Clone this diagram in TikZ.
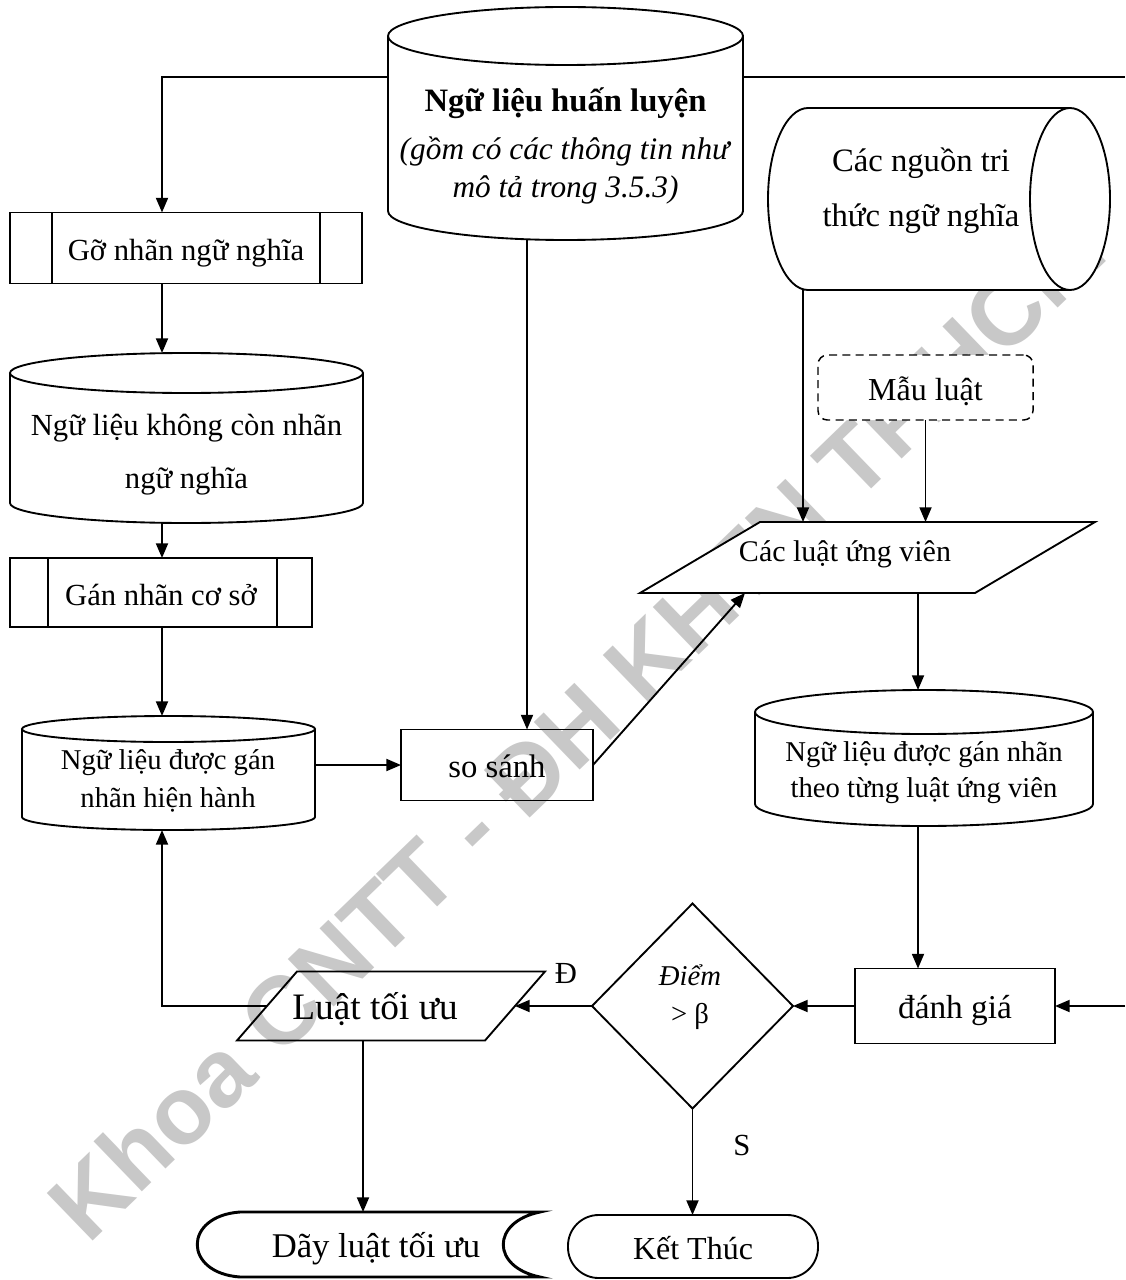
\documentclass[tikz,border=0pt]{standalone}
\usepackage{fontspec}
\setmainfont{Liberation Serif}
\newfontfamily\wmfont{Liberation Sans}
\usetikzlibrary{arrows.meta,calc}
\definecolor{wmgray}{RGB}{200,200,200}

% vertical database cylinder drawn around a frame node: #1 node, #2 x radius, #3 y radius (px)
\newcommand{\dbcyl}[3]{%
  \path[fill=white] ($(#1.north west)+(0,#3)$) -- ($(#1.south west)-(0,#3)$)
    arc[start angle=180,end angle=0,x radius=#2,y radius=#3]
    -- ($(#1.north east)+(0,#3)$)
    arc[start angle=0,end angle=-180,x radius=#2,y radius=#3] -- cycle;
  \draw[stroke] ($(#1.north west)+(0,#3)$) -- ($(#1.south west)-(0,#3)$)
    arc[start angle=180,end angle=0,x radius=#2,y radius=#3]
    -- ($(#1.north east)+(0,#3)$);
  \draw[stroke] ($(#1.north)+(0,#3)$) ellipse[x radius=#2,y radius=#3];
}

\begin{document}
\begin{tikzpicture}[x=0.75pt,y=-0.75pt,
  every node/.style={inner sep=0pt,outer sep=0pt},
  sz/.style 2 args={minimum width=#1*0.75pt,minimum height=#2*0.75pt},
  stroke/.style={line width=1.4pt},
  flow/.style={stroke,-{Triangle[length=11pt,width=9pt]}},
  lbl/.style={font=\fontsize{23}{28.5}\selectfont,align=center},
  procbox/.style={draw,stroke,rectangle,lbl,text height=21pt,text depth=2pt},
]
\useasboundingbox (0,0) rectangle (1125,1280);
\fill[white] (0,0) rectangle (1125,1280);

% watermark
\node[font=\wmfont\bfseries\fontsize{72}{72}\selectfont,text=wmgray,rotate=44,anchor=base west]
  (wm) at (88,1245) {Khoa CNTT - ĐH KHTN TP.HCM};

% frames of the drawn shapes
\node[sz={355}{233}] (train) at (565.5,123.5) {};
\node[sz={353}{170}] (plain) at (186.5,438) {};
\node[sz={293}{114}] (cur) at (168.5,773) {};
\node[sz={338}{136}] (ranked) at (924,758) {};
\node[sz={342}{182}] (srcs) at (939,199) {};
\node[sz={455}{71}] (cand) at (867.5,557.5) {};
\node[sz={308}{69}] (best) at (391,1006) {};
\node[sz={201}{205}] (test) at (692.5,1006) {};
\node[sz={343}{65}] (seq) at (368.5,1244.5) {};

% cylinders
\dbcyl{train}{177.5}{29}
\dbcyl{plain}{176.5}{20}
\dbcyl{cur}{146.5}{13}
\dbcyl{ranked}{169}{22}

% horizontal cylinder
\filldraw[stroke,fill=white] ($(srcs.north east)-(40,0)$) -- ($(srcs.north west)+(40,0)$)
  arc[start angle=270,end angle=90,x radius=40,y radius=91] -- ($(srcs.south east)-(40,0)$);
\filldraw[stroke,fill=white] ($(srcs.east)-(40,0)$) ellipse[x radius=40,y radius=91];

% parallelograms and decision
\filldraw[stroke,fill=white] ($(cand.north west)+(120,0)$) -- (cand.north east)
  -- ($(cand.south east)-(120,0)$) -- (cand.south west) -- cycle;
\draw[stroke] ($(best.north west)+(60,0)$) -- (best.north east)
  -- ($(best.south east)-(60,0)$) -- (best.south west) -- cycle;
\draw[stroke] (test.north) -- (test.east) -- (test.south) -- (test.west) -- cycle;

% stored data
\draw[line width=2.2pt] ($(seq.north west)+(43,0)$) -- (seq.north east)
  .. controls ($(seq.north east)+(-49,10)$) and ($(seq.south east)+(-49,-10)$) .. (seq.south east)
  -- ($(seq.south west)+(43,0)$)
  .. controls ($(seq.south west)+(-14,-4)$) and ($(seq.north west)+(-14,4)$) .. cycle;

% boxes with text
\node[procbox,sz={352}{71}] (strip) at (186,248) {Gỡ nhãn ngữ nghĩa};
\draw[stroke] ($(strip.north west)+(42,0)$) -- ($(strip.south west)+(42,0)$);
\draw[stroke] ($(strip.north east)-(42,0)$) -- ($(strip.south east)-(42,0)$);
\node[procbox,sz={302}{69}] (base) at (161,592.5) {Gán nhãn cơ sở};
\draw[stroke] ($(base.north west)+(38,0)$) -- ($(base.south west)+(38,0)$);
\draw[stroke] ($(base.north east)-(35,0)$) -- ($(base.south east)-(35,0)$);
\node[procbox,sz={192}{71},font=\fontsize{24.5}{30}\selectfont] (cmp) at (497,765) {so sánh};
\node[procbox,sz={200}{75},font=\fontsize{25}{30}\selectfont] (eval) at (955,1006) {đánh giá};
\node[procbox,line width=1.1pt,dash pattern=on 6pt off 4pt,rounded corners=7pt,fill=white,
  sz={215}{65},font=\fontsize{24}{30}\selectfont] (rule) at (925.5,387.5) {Mẫu luật};
\node[procbox,rounded corners=23pt,sz={250}{63},font=\fontsize{24}{30}\selectfont]
  (stop) at (693,1246.5) {Kết Thúc};

% texts of the drawn shapes
\node[lbl] (train-t) at (565.5,146) {{\fontsize{24.5}{28.5}\selectfont\textbf{Ngữ liệu huấn luyện}}\\[7.5pt]
  {\fontsize{23.5}{28.5}\selectfont\textit{(gồm có các thông tin như}}\\
  {\fontsize{23.5}{28.5}\selectfont\textit{mô tả trong 3.5.3)}}};
\node[lbl,font=\fontsize{23}{40}\selectfont] (plain-t) at (186.5,454.5) {Ngữ liệu không còn nhãn\\ngữ nghĩa};
\node[lbl,font=\fontsize{21.5}{28.5}\selectfont] (cur-t) at (168,781) {Ngữ liệu được gán\\nhãn hiện hành};
\node[lbl,font=\fontsize{21.5}{27}\selectfont] (ranked-t) at (924,773) {Ngữ liệu được gán nhãn\\theo từng luật ứng viên};
\node[lbl,font=\fontsize{24.5}{41}\selectfont] (srcs-t) at (921,190.5) {Các nguồn tri\\thức ngữ nghĩa};
\node[lbl,font=\fontsize{22.5}{28}\selectfont] (cand-t) at (845,554) {Các luật ứng viên};
\node[lbl,font=\fontsize{28}{32}\selectfont] (best-t) at (375,1009) {Luật tối ưu};
\node[lbl,font=\fontsize{21.5}{29}\selectfont] (test-t) at (690,997) {\textit{Điểm}\\> β};
\node[lbl,font=\fontsize{26}{30}\selectfont] (seq-t) at (376,1249) {Dãy luật tối ưu};
\node[lbl] (yes) at (566,973) {Đ};
\node[lbl] (no) at (742,1145) {S};

% connector columns
\coordinate (xL) at (162,77);
\coordinate (xR) at (1125,77);
\coordinate (inR) at (1125,1006);
\coordinate (xC) at (527,0);
\coordinate (xK) at (803,0);
\coordinate (xV) at (918,0);
\coordinate (xM) at (363,0);

% connectors
\draw[flow] (xL -| train.west) -- (xL) -- (xL |- strip.north);
\draw[stroke] (xR -| train.east) -- (xR);
\draw[flow] (xL |- strip.south) -- (xL |- plain.north);
\draw[flow] (xL |- plain.south) -- (xL |- base.north);
\draw[flow] (xL |- base.south) -- (xL |- cur.north);
\draw[flow] (cmp.west -| cur.east) -- (cmp.west);
\draw[flow] (xC |- train.south) -- (xC |- cmp.north);
\draw[flow] (cmp.east) -- ($(cand.south west)+(105,0)$);
\draw[flow] (xK |- srcs.south) -- (xK |- cand.north);
\draw[flow] (rule.south) -- (rule.south |- cand.north);
\draw[flow] (xV |- cand.south) -- (xV |- ranked.north);
\draw[flow] (xV |- ranked.south) -- (xV |- eval.north);
\draw[flow] (inR) -- (inR -| eval.east);
\draw[flow] (eval.west) -- (test.east);
\draw[flow] (test.west) -- ($(best.east)-(30,0)$);
\draw[flow] ($(best.west)+(30,0)$) -- (xL |- best.west) -- (xL |- cur.south);
\draw[flow] (xM |- best.south) -- (xM |- seq.north);
\draw[flow] (test.south) -- (test.south |- stop.north);
\end{tikzpicture}
\end{document}
